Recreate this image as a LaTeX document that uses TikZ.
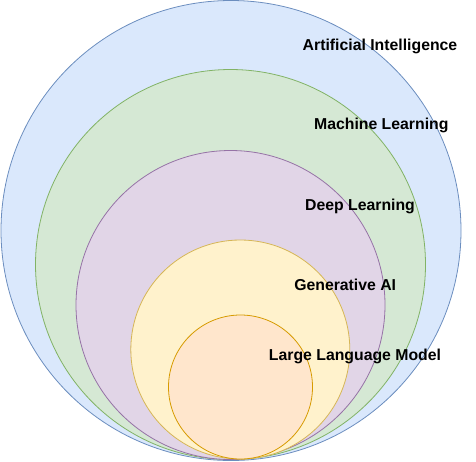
\documentclass[tikz,border=0pt]{standalone}
\usepackage{fontspec}
\setmainfont{Liberation Sans}
\definecolor{aifill}{HTML}{DAE8FC}
\definecolor{aidraw}{HTML}{6C8EBF}
\definecolor{mlfill}{HTML}{D5E8D4}
\definecolor{mldraw}{HTML}{82B366}
\definecolor{dlfill}{HTML}{E1D5E7}
\definecolor{dldraw}{HTML}{9673A6}
\definecolor{genfill}{HTML}{FFF2CC}
\definecolor{gendraw}{HTML}{D6B656}
\definecolor{llmfill}{HTML}{FFE6CC}
\definecolor{llmdraw}{HTML}{D79B00}
\tikzset{
  set/.style={circle,inner sep=0pt,line width=0.8pt},
  setlabel/.style={anchor=base,inner sep=0pt,font=\fontsize{15.8}{19}\selectfont\bfseries}
}
\begin{document}
\begin{tikzpicture}[x=1pt,y=-1pt]
\useasboundingbox (0,0) rectangle (476,461);
% nested sets, all touching at the bottom
\node[set,draw=aidraw,fill=aifill,minimum size=460pt] (ai) at (231,230.5) {};
\node[set,draw=mldraw,fill=mlfill,minimum size=390pt] (ml) at (230.5,264.5) {};
\node[set,draw=dldraw,fill=dlfill,minimum size=309pt] (dl) at (230.5,305) {};
\node[set,draw=gendraw,fill=genfill,minimum size=219pt] (gen) at (240.3,349.5) {};
\node[set,draw=llmdraw,fill=llmfill,minimum size=144pt] (llm) at (240.5,387) {};
% labels
\node[setlabel] (ailabel) at (380,50) {Artificial Intelligence};
\node[setlabel] (mllabel) at (381.3,129.5) {Machine Learning};
\node[setlabel] (dllabel) at (360,210) {Deep Learning};
\node[setlabel] (genlabel) at (345.2,290) {Generative AI};
\node[setlabel] (llmlabel) at (355,360) {Large Language Model};
\end{tikzpicture}
\end{document}
